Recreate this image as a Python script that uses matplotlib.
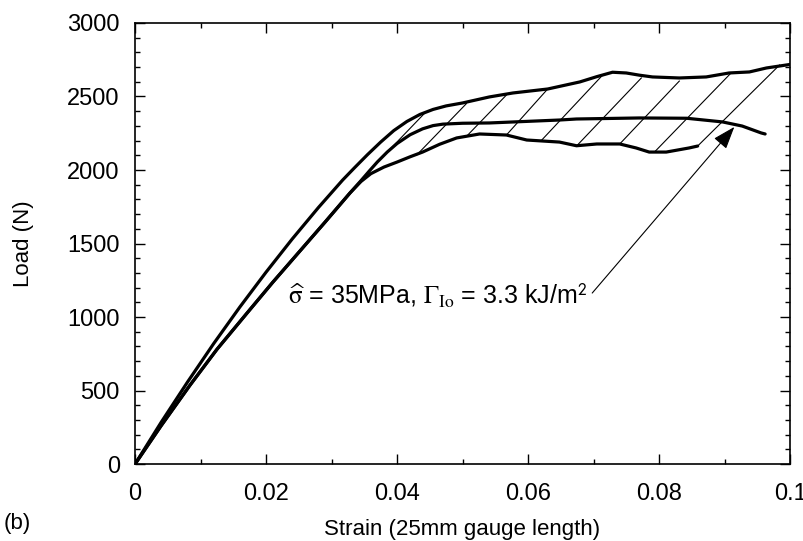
import numpy as np
import matplotlib
matplotlib.use("Agg")
import matplotlib.pyplot as plt
from matplotlib.ticker import MultipleLocator

plt.rcParams['font.family'] = ['Liberation Sans', 'DejaVu Sans']
plt.rcParams['mathtext.fontset'] = 'stix'

# upper loading curve
strain_a = [0, 0.004, 0.008, 0.012, 0.016, 0.020, 0.024, 0.028, 0.0317, 0.0335,
            0.0355, 0.0375, 0.0395, 0.0415, 0.0435, 0.0455, 0.0475, 0.0500, 0.0541,
            0.0577, 0.0630, 0.0679, 0.0705, 0.0729, 0.0750, 0.0770, 0.0790, 0.0831,
            0.0872, 0.0907, 0.0938, 0.0964, 0.0994, 0.1]
load_a = [0, 285, 557, 819, 1068, 1305, 1531, 1745, 1932, 2015,
          2105, 2190, 2268, 2330, 2378, 2412, 2436, 2456, 2497,
          2524, 2551, 2599, 2635, 2665, 2660, 2645, 2633, 2626,
          2633, 2660, 2667, 2694, 2714, 2718]

# middle curve (runs on past the hatched area)
strain_b = [0, 0.004, 0.0084, 0.0125, 0.0171, 0.021, 0.025, 0.029, 0.0328, 0.0345,
            0.0358, 0.037, 0.0385, 0.040, 0.042, 0.0439, 0.0455, 0.047, 0.050,
            0.0541, 0.0648, 0.0674, 0.077, 0.0842, 0.0897, 0.0927, 0.0956, 0.0962]
load_b = [0, 262, 537, 780, 1027, 1235, 1440, 1645, 1843, 1928,
          1995, 2055, 2122, 2180, 2240, 2280, 2302, 2312, 2318,
          2320, 2340, 2347, 2354, 2352, 2327, 2299, 2252, 2245]

# lower curve
strain_c = [0, 0.004, 0.0084, 0.0125, 0.0171, 0.021, 0.025, 0.029, 0.0328, 0.0345,
            0.036, 0.038, 0.040, 0.042, 0.0439, 0.0465, 0.0491, 0.0526, 0.0567,
            0.0598, 0.0648, 0.0674, 0.0705, 0.074, 0.0765, 0.0785, 0.0811, 0.0846,
            0.0859]
load_c = [0, 262, 537, 780, 1027, 1235, 1440, 1645, 1843, 1922,
          1975, 2020, 2054, 2090, 2122, 2175, 2218, 2245, 2238,
          2204, 2190, 2165, 2177, 2177, 2150, 2122, 2122, 2150,
          2163]

# hatch lines (unloading lines) start -> end
hatch_x0 = [0.0389, 0.0430, 0.0508, 0.0567, 0.0621, 0.0674, 0.0740, 0.0793, 0.0859]
hatch_y0 = [2140, 2102, 2238, 2238, 2204, 2163, 2177, 2122, 2163]
hatch_x1 = [0.0441, 0.0506, 0.0567, 0.0630, 0.0714, 0.0773, 0.0831, 0.0910, 0.0984]
hatch_y1 = [2381, 2452, 2510, 2551, 2646, 2626, 2605, 2660, 2714]

arrow_tail = (0.0698, 1163)
arrow_tip = (0.0915, 2293)

fig = plt.figure(figsize=(8.04, 5.41), dpi=100)
ax = fig.add_axes([0.168, 0.1423, 0.8146, 0.8152])

for x0, y0, x1, y1 in zip(hatch_x0, hatch_y0, hatch_x1, hatch_y1):
    ax.plot([x0, x1], [y0, y1], color='k', lw=0.8)

for sx, ly in [(strain_a, load_a), (strain_b, load_b), (strain_c, load_c)]:
    ax.plot(sx, ly, color='k', lw=2.3, solid_capstyle='round', solid_joinstyle='round')

ax.annotate('', xy=arrow_tip, xytext=arrow_tail,
            arrowprops=dict(arrowstyle='-|>,head_length=0.7,head_width=0.25',
                            color='k', lw=0.8, mutation_scale=20, shrinkA=0, shrinkB=0))
ax.text(0.0691, 1095,
        r'$\widehat{\mathrm{\sigma}}$ = 35MPa, $\Gamma_{\rm Io}$ = 3.3 kJ/m$^{\mathsf{2}}$',
        fontsize=18, ha='right', va='baseline')

ax.set_xlim(0, 0.1)
ax.set_ylim(0, 3000)
ax.set_xticks([0, 0.02, 0.04, 0.06, 0.08, 0.1])
ax.set_xticklabels(['0', '0.02', '0.04', '0.06', '0.08', '0.1'])
ax.xaxis.set_minor_locator(MultipleLocator(0.01))
ax.yaxis.set_major_locator(MultipleLocator(500))
ax.yaxis.set_minor_locator(MultipleLocator(100))
ax.tick_params(which='both', direction='in', top=True, right=True, width=1)
ax.tick_params(which='major', length=7, labelsize=17)
ax.tick_params(axis='x', which='major', pad=14)
ax.tick_params(axis='y', which='major', pad=11)
ax.tick_params(which='minor', length=3.5)
for s in ax.spines.values():
    s.set_linewidth(1.2)

ax.set_xlabel('Strain (25mm gauge length)', fontsize=16, labelpad=10)
ax.set_ylabel('Load (N)', fontsize=16, labelpad=24)
fig.text(0.005, 0.033, '(b)', fontsize=16, ha='left', va='center')

fig.savefig('out.png', dpi=100)
